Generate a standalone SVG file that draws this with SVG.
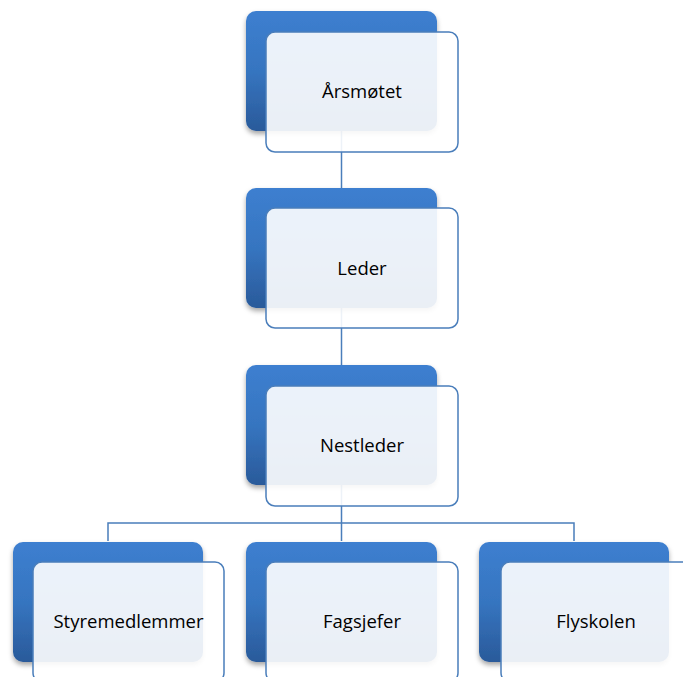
<svg xmlns="http://www.w3.org/2000/svg" width="683" height="677" viewBox="0 0 683 677">
<style>
.back{fill:url(#g);filter:url(#sh)}
.front{fill:#ffffff;fill-opacity:0.9;stroke:#4a7ebb;stroke-width:1.5}
.conn{fill:none;stroke:#4a7ebb;stroke-width:1.5}
text{font-family:"Open Sans","Liberation Sans",sans-serif;font-size:18.5px;fill:#000;text-anchor:middle}
</style>
<defs>
<linearGradient id="g" x1="0" y1="0" x2="0" y2="1">
<stop offset="0" stop-color="#3d7fd0"/>
<stop offset="0.5" stop-color="#3675c0"/>
<stop offset="1" stop-color="#2a5a9a"/>
</linearGradient>
<filter id="sh" x="-10%" y="-10%" width="120%" height="130%">
<feDropShadow dx="0" dy="3" stdDeviation="2.5" flood-color="#000" flood-opacity="0.35"/>
</filter>
</defs>
<rect width="683" height="677" fill="#fff"/>
<g id="connectors">
<path class="conn" d="M341.5 131V188"/>
<path class="conn" d="M341.5 308V365"/>
<path class="conn" d="M341.5 485V523M108 541V523H574V541M341.5 523V541"/>
</g>
<g id="n1">
<rect class="back" x="246" y="11" width="191" height="120" rx="10"/>
<rect class="front" x="266" y="32" width="192" height="120" rx="9"/>
<text x="362" y="98">Årsmøtet</text>
</g>
<g id="n2">
<rect class="back" x="246" y="188" width="191" height="120" rx="10"/>
<rect class="front" x="266" y="208" width="192" height="120" rx="9"/>
<text x="362" y="275">Leder</text>
</g>
<g id="n3">
<rect class="back" x="246" y="365" width="191" height="120" rx="10"/>
<rect class="front" x="266" y="386" width="192" height="120" rx="9"/>
<text x="362" y="452">Nestleder</text>
</g>
<g id="n4">
<rect class="back" x="13" y="542" width="190" height="120" rx="10"/>
<rect class="front" x="33" y="562" width="191" height="120" rx="9"/>
<text x="128.5" y="628">Styremedlemmer</text>
</g>
<g id="n5">
<rect class="back" x="246" y="542" width="191" height="120" rx="10"/>
<rect class="front" x="266" y="562" width="192" height="120" rx="9"/>
<text x="362" y="628">Fagsjefer</text>
</g>
<g id="n6">
<rect class="back" x="479" y="542" width="190" height="120" rx="10"/>
<rect class="front" x="501" y="562" width="192" height="120" rx="9"/>
<text x="596" y="628">Flyskolen</text>
</g>
</svg>
